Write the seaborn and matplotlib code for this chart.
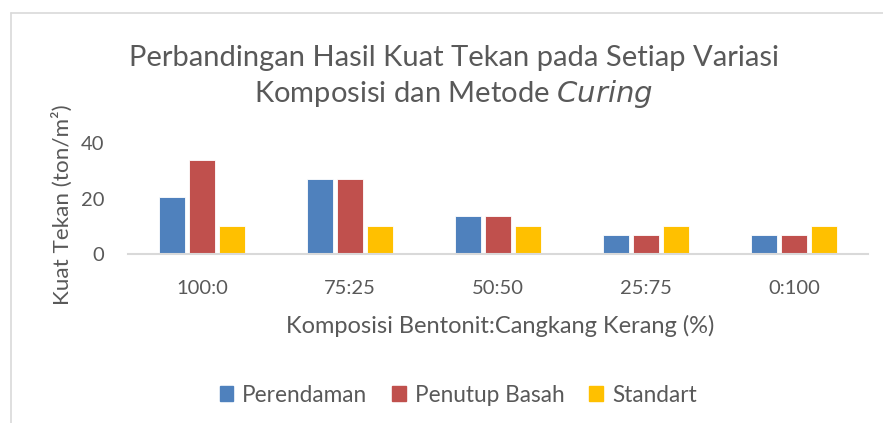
import matplotlib
matplotlib.use("Agg")
import matplotlib.pyplot as plt
import pandas as pd
import seaborn as sns

# data
komposisi = ["100:0", "75:25", "50:50", "25:75", "0:100"]
perendaman = [20.4, 27.2, 13.6, 6.8, 6.8]
penutup_basah = [34.0, 27.2, 13.6, 6.8, 6.8]
standart = [10.0, 10.0, 10.0, 10.0, 10.0]
metode = ["Perendaman", "Penutup Basah", "Standart"]
warna = ["#4F81BD", "#C0504D", "#FFC000"]

rows = []
for m, vals in zip(metode, [perendaman, penutup_basah, standart]):
    for k, v in zip(komposisi, vals):
        rows.append({"Komposisi": k, "Metode": m, "Kuat": v})
df = pd.DataFrame(rows)

sns.set_theme(style="white")
plt.rcParams["font.family"] = ["Lato", "DejaVu Sans"]
grey = "#595959"

fig = plt.figure(figsize=(8.83, 4.23), dpi=100)
ax = fig.add_axes([0.145, 0.3995, 0.838, 0.2624])

sns.barplot(data=df, x="Komposisi", y="Kuat", hue="Metode", order=komposisi,
            hue_order=metode, palette=warna, saturation=1, width=0.61, gap=0.15,
            edgecolor="white", linewidth=0.6, ax=ax, legend=False)

ax.set_ylim(0, 40)
ax.set_yticks([0, 20, 40])
ax.set_xlim(-0.5, 4.5)
for s in ["top", "right", "left"]:
    ax.spines[s].set_visible(False)
ax.spines["bottom"].set_color("#D9D9D9")
ax.spines["bottom"].set_linewidth(1.5)
ax.tick_params(axis="both", length=0, labelsize=14.5, labelcolor=grey)
ax.tick_params(axis="x", pad=19)
ax.tick_params(axis="y", pad=17)
ax.set_xlabel("")
ax.set_ylabel("")

fig.text(0.566, 1 - 326 / 423, "Komposisi Bentonit:Cangkang Kerang (%)",
         ha="center", va="center", fontsize=17, color=grey)
fig.text(62 / 883, 1 - 205 / 423, "Kuat Tekan (ton/m²)", rotation=90,
         ha="center", va="center", fontsize=16.2, color=grey)

fig.text(0.514, 0.862, "Perbandingan Hasil Kuat Tekan pada Setiap Variasi",
         ha="center", va="center", fontsize=21, color=grey)
fig.text(0.514, 0.777, "Komposisi dan Metode $\\it{Curing}$",
         ha="center", va="center", fontsize=21, color=grey)

handles = [plt.Rectangle((0, 0), 1, 1, color=c) for c in warna]
fig.legend(handles, metode, loc="center", bbox_to_anchor=(0.519, 0.066), ncol=3,
           frameon=False, fontsize=16.3, labelcolor=grey, handlelength=0.6,
           handleheight=0.6, handletextpad=0.4, columnspacing=1.1)

# outer chart frame (light border, cropped on right/bottom)
fig.add_artist(plt.Line2D([0.0125, 0.0125], [0.0, 0.97], color="#D9D9D9", lw=1.2))
fig.add_artist(plt.Line2D([0.0125, 1.0], [0.97, 0.97], color="#D9D9D9", lw=1.2))

fig.savefig("out.png", dpi=100)
